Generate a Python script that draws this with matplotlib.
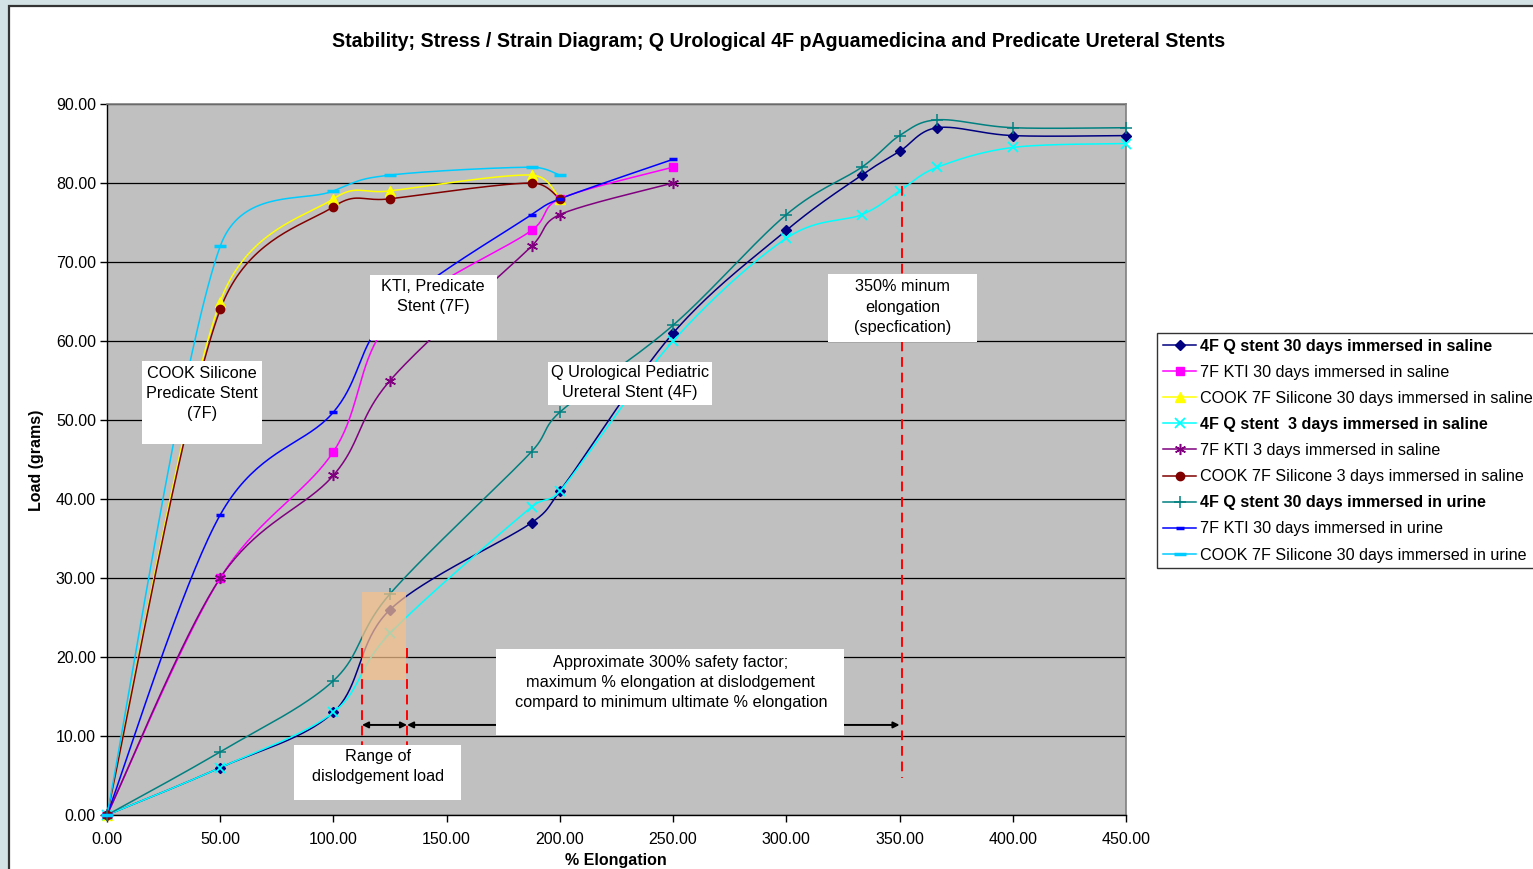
import numpy as np
import matplotlib
matplotlib.use("Agg")
import matplotlib.pyplot as plt
from matplotlib.patches import Rectangle, FancyArrowPatch
from matplotlib.lines import Line2D

plt.rcParams['font.family'] = ['Liberation Sans', 'DejaVu Sans']

# ---------------- data ----------------
q30_saline_x = [0, 50, 100, 125, 187.5, 200, 250, 300, 333.3, 350, 366.7, 400, 450]
q30_saline_y = [0, 6, 13, 26, 37, 41, 61, 74, 81, 84, 87, 86, 86]

kti30_saline_x = [0, 50, 100, 125, 187.5, 200, 250]
kti30_saline_y = [0, 30, 46, 62.5, 74, 78, 82]

cook30_saline_x = [0, 50, 100, 125, 187.5, 200]
cook30_saline_y = [0, 65, 78, 79, 81, 78]

q3_saline_x = [0, 50, 100, 125, 187.5, 200, 250, 300, 333.3, 350, 366.7, 400, 450]
q3_saline_y = [0, 6, 13, 23, 39, 41, 60, 73, 76, 79, 82, 84.5, 85]

kti3_saline_x = [0, 50, 100, 125, 187.5, 200, 250]
kti3_saline_y = [0, 30, 43, 55, 72, 76, 80]

cook3_saline_x = [0, 50, 100, 125, 187.5, 200]
cook3_saline_y = [0, 64, 77, 78, 80, 78]

q30_urine_x = [0, 50, 100, 125, 187.5, 200, 250, 300, 333.3, 350, 366.7, 400, 450]
q30_urine_y = [0, 8, 17, 28, 46, 51, 62, 76, 82, 86, 88, 87, 87]

kti30_urine_x = [0, 50, 100, 125, 187.5, 200, 250]
kti30_urine_y = [0, 38, 51, 63.5, 76, 78, 83]

cook30_urine_x = [0, 50, 100, 125, 187.5, 200]
cook30_urine_y = [0, 72, 79, 81, 82, 81]

series_labels = [
    "4F Q stent 30 days immersed in saline",
    "7F KTI 30 days immersed in saline",
    "COOK 7F Silicone 30 days immersed in saline",
    "4F Q stent  3 days immersed in saline",
    "7F KTI 3 days immersed in saline",
    "COOK 7F Silicone 3 days immersed in saline",
    "4F Q stent 30 days immersed in urine",
    "7F KTI 30 days immersed in urine",
    "COOK 7F Silicone 30 days immersed in urine",
]
bold_labels = [True, False, False, True, False, False, True, False, False]

x_ticks = [0, 50, 100, 150, 200, 250, 300, 350, 400, 450]
y_ticks = [0, 10, 20, 30, 40, 50, 60, 70, 80, 90]

# annotation reference values
dislodge_lo, dislodge_hi = 112.6, 132.5
spec_elong = 351
dislodge_load_lo, dislodge_load_hi = 17.1, 28.2

# ---------------- styles ----------------
styles = [
    dict(color='#000080', marker='D', ms=5.5, mfc='#000080', mec='#000080', mew=1),
    dict(color='#ff00ff', marker='s', ms=6, mfc='#ff00ff', mec='#ff00ff', mew=1),
    dict(color='#ffff00', marker='^', ms=7.5, mfc='#ffff00', mec='#ffff00', mew=1),
    dict(color='#00ffff', marker='x', ms=6.5, mfc='none', mec='#00ffff', mew=1.3),
    dict(color='#800080', marker=(6, 2, 0), ms=8, mfc='none', mec='#800080', mew=1.1),
    dict(color='#800000', marker='o', ms=6, mfc='#800000', mec='#800000', mew=1),
    dict(color='#008080', marker='+', ms=9, mfc='none', mec='#008080', mew=1.1),
    dict(color='#0000ff', marker='_', ms=6, mfc='none', mec='#0000ff', mew=2.5),
    dict(color='#00ccff', marker='_', ms=8, mfc='none', mec='#00ccff', mew=2.5),
]

series = [
    (q30_saline_x, q30_saline_y),
    (kti30_saline_x, kti30_saline_y),
    (cook30_saline_x, cook30_saline_y),
    (q3_saline_x, q3_saline_y),
    (kti3_saline_x, kti3_saline_y),
    (cook3_saline_x, cook3_saline_y),
    (q30_urine_x, q30_urine_y),
    (kti30_urine_x, kti30_urine_y),
    (cook30_urine_x, cook30_urine_y),
]


def smooth(ax, xs, ys, n=40):
    """Excel-like smoothed line: Bezier segments built in screen space,
    handles = |P(i+1)-P(i-1)|/6 capped at half the segment length."""
    trans = ax.transData
    p = trans.transform(np.column_stack([xs, ys]).astype(float))
    pts = np.vstack([p[0], p, p[-1]])
    t = np.linspace(0, 1, n)[1:, None]
    out = [p[0]]

    def handle(prev, nxt, seglen):
        v = nxt - prev
        L = np.hypot(*v)
        if L == 0:
            return np.zeros(2)
        h = min(L / 6.0, seglen / 2.0)
        return v / L * h

    for i in range(1, len(pts) - 2):
        p0, p1, p2, p3 = pts[i - 1], pts[i], pts[i + 1], pts[i + 2]
        d12 = np.hypot(*(p2 - p1))
        c1 = p1 + handle(p0, p2, d12)
        c2 = p2 - handle(p1, p3, d12)
        seg = ((1 - t) ** 3) * p1 + 3 * ((1 - t) ** 2) * t * c1 + 3 * (1 - t) * t ** 2 * c2 + t ** 3 * p2
        out.extend(seg)
    out = trans.inverted().transform(np.array(out))
    return out[:, 0], out[:, 1]


W, H = 1533, 869
fig = plt.figure(figsize=(W / 100, H / 100), dpi=100, facecolor='#d3e3e5')

# white chart area with dark border (behind the axes)
fig.patches.append(Rectangle((8.5 / W, -0.05), 1.2, 1 - 5.5 / H + 0.05, transform=fig.transFigure,
                             facecolor='white', edgecolor='#333333', linewidth=1.6, zorder=-10))

ax = fig.add_axes([107 / W, 1 - 815 / H, (1126 - 107) / W, (815 - 104) / H])
ax.set_facecolor('#c0c0c0')
ax.set_xlim(0, 450)
ax.set_ylim(0, 90)
ax.set_xticks(x_ticks)
ax.set_yticks(y_ticks)
ax.set_xticklabels([f"{v:.2f}" for v in x_ticks])
ax.set_yticklabels([f"{v:.2f}" for v in y_ticks])
ax.tick_params(axis='both', direction='out', length=5, width=1, color='black',
               labelsize=11.5, pad=3)
ax.tick_params(axis='x', pad=7.5)
ax.yaxis.grid(True, color='black', linewidth=0.9)
ax.set_axisbelow(True)
for s in ['top', 'right']:
    ax.spines[s].set_color('#808080')
    ax.spines[s].set_linewidth(1.2)
for s in ['left', 'bottom']:
    ax.spines[s].set_color('black')
    ax.spines[s].set_linewidth(1.0)

handles = []
for (xs, ys), st, lab in zip(series, styles, series_labels):
    sx, sy = smooth(ax, xs, ys)
    ax.plot(sx, sy, color=st['color'], lw=1.1, zorder=3, clip_on=False)
    ax.plot(xs, ys, linestyle='none', marker=st['marker'], ms=st['ms'], mfc=st['mfc'],
            mec=st['mec'], mew=st['mew'], zorder=4, clip_on=False)
    handles.append(Line2D([], [], color=st['color'], lw=1.1, marker=st['marker'], ms=st['ms'],
                          mfc=st['mfc'], mec=st['mec'], mew=st['mew'], label=lab))

# orange dislodgement range box
ax.add_patch(Rectangle((dislodge_lo, dislodge_load_lo), dislodge_hi - 0.5 - dislodge_lo,
                       dislodge_load_hi - dislodge_load_lo, facecolor='#f7bf8a', alpha=0.72,
                       edgecolor='none', zorder=5))

# red dashed lines
for xv, y0, y1 in [(dislodge_lo, 21.1, 3.0), (dislodge_hi, 21.1, 3.0), (spec_elong, 79.6, 4.7)]:
    ax.plot([xv, xv], [y0, y1], color='#ff0000', lw=1.4, linestyle=(0, (5, 3)), zorder=6)

# arrows
arrow_y = 11.4
for a, b in [(dislodge_lo, dislodge_hi), (dislodge_hi, spec_elong - 1)]:
    ax.add_patch(FancyArrowPatch((a, arrow_y), (b, arrow_y), arrowstyle='<|-|>', mutation_scale=9,
                                 color='black', lw=1.4, shrinkA=0, shrinkB=0, zorder=7))


def box(x0, x1, y0, y1, tx, ty, text):
    ax.add_patch(Rectangle((x0, y0), x1 - x0, y1 - y0, facecolor='white', edgecolor='none', zorder=8))
    ax.text(tx, ty, text, ha='center', va='center', fontsize=11.7, linespacing=1.42, zorder=9)


box(15.5, 68.5, 47.0, 57.5, 42.0, 53.3, "COOK Silicone\nPredicate Stent\n(7F)")
box(116.1, 172.2, 60.1, 68.4, 144.0, 65.6, "KTI, Predicate\nStent (7F)")
box(194.8, 267.2, 51.9, 57.3, 231.0, 54.7, "Q Urological Pediatric\nUreteral Stent (4F)")
box(318.4, 384.2, 59.9, 68.5, 351.5, 64.3, "350% minum\nelongation\n(specfication)")
box(171.8, 325.5, 10.1, 21.0, 249.0, 16.8,
    "Approximate 300% safety factor;\nmaximum % elongation at dislodgement\ncompard to minimum ultimate % elongation")
box(82.6, 156.3, 1.9, 8.9, 119.7, 6.1, "Range of\ndislodgement load")

fig.text(779 / W, 1 - 41.5 / H, "Stability; Stress / Strain Diagram; Q Urological 4F pAguamedicina and Predicate Ureteral Stents",
         ha='center', va='center', fontsize=14.1, fontweight='bold')
fig.text(37 / W, 1 - 460 / H, "Load (grams)", rotation=90, ha='center', va='center',
         fontsize=11.5, fontweight='bold')
fig.text(616 / W, 1 - 860 / H, "% Elongation", ha='center', va='center',
         fontsize=11.5, fontweight='bold')

leg = fig.legend(handles=handles, loc='upper left', bbox_to_anchor=(1157 / W, 1 - 333 / H),
                 bbox_transform=fig.transFigure, fontsize=11.6, frameon=True, fancybox=False,
                 edgecolor='black', borderpad=0.35, labelspacing=0.69, handlelength=2.1,
                 handletextpad=0.2, borderaxespad=0, markerscale=1.0)
leg.get_frame().set_linewidth(1.0)
for txt, b in zip(leg.get_texts(), bold_labels):
    if b:
        txt.set_fontweight('bold')

fig.savefig("out.png", dpi=100)
